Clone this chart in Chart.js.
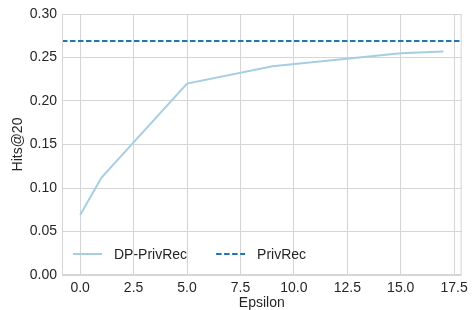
<!DOCTYPE html>
<html>
<head>
<meta charset="utf-8">
<script src="https://cdn.jsdelivr.net/npm/chart.js@4/dist/chart.umd.min.js"></script>
<style>
  html, body { margin:0; padding:0; background:#fff; }
  #wrap { width:473px; height:310px; position:relative; }
</style>
</head>
<body>
<div id="wrap"><canvas id="chart" width="473" height="310"></canvas></div>
<script>
// data
const epsilon = [0, 1, 5, 9, 15, 17];
const dpPrivRec = [0.069, 0.112, 0.220, 0.240, 0.255, 0.257];
const privRecLevel = 0.269;
const xLimits = [-0.85, 17.85];
const xTicks = [0, 2.5, 5, 7.5, 10, 12.5, 15, 17.5];
const yTicks = [0, 0.05, 0.10, 0.15, 0.20, 0.25, 0.30];
const seriesNames = ["DP-PrivRec", "PrivRec"];

const FONT = "'Liberation Sans', Arial, sans-serif";
const TEXT = "#262626";
const GRID = "#d5d5d5";

// frame all round + legend inside the axes, bottom-left
const framePlugin = {
    id: "frame",
    afterDatasetsDraw(chart){
        const {ctx, chartArea:a} = chart;
        ctx.save();
        ctx.strokeStyle = GRID;
        ctx.lineWidth = 1;
        ctx.strokeRect(a.left+0.5, a.top+0.5, a.right-a.left-1, a.bottom-a.top-1);

        // legend
        const y = a.bottom - 21;
        ctx.font = "14px " + FONT;
        ctx.fillStyle = TEXT;
        ctx.textBaseline = "middle";
        let x = a.left + 11;
        chart.data.datasets.forEach((ds, i)=>{
            ctx.beginPath();
            ctx.strokeStyle = ds.borderColor;
            ctx.lineWidth = 2;
            ctx.setLineDash(ds.borderDash || []);
            ctx.moveTo(x, y);
            ctx.lineTo(x + 29, y);
            ctx.stroke();
            ctx.setLineDash([]);
            ctx.fillText(ds.label, x + 41, y + 1);
            x += 41 + ctx.measureText(ds.label).width + 29;
        });
        ctx.restore();
    }
};

new Chart(document.getElementById("chart"), {
    type: "line",
    data: {
        datasets: [
            {
                label: seriesNames[0],
                data: epsilon.map((e, i)=>({x:e, y:dpPrivRec[i]})),
                borderColor: "#a6cee3",
                borderWidth: 2,
                pointRadius: 0,
                tension: 0,
                fill: false
            },
            {
                label: seriesNames[1],
                data: xLimits.map(e=>({x:e, y:privRecLevel})),
                borderColor: "#1f78b4",
                borderWidth: 2,
                borderDash: [5.5, 2.5],
                pointRadius: 0,
                fill: false
            }
        ]
    },
    options: {
        responsive: false,
        animation: false,
        layout: { padding: { top: 14, right: 11, left: 0, bottom: 0 } },
        plugins: { legend: { display: false }, tooltip: { enabled: false } },
        scales: {
            x: {
                type: "linear",
                min: xLimits[0],
                max: xLimits[1],
                afterBuildTicks: s=>{ s.ticks = xTicks.map(v=>({value:v})); },
                afterFit: s=>{ s.height = 35; },
                ticks: {
                    color: TEXT,
                    font: { family: FONT, size: 14 },
                    padding: 5,
                    maxRotation: 0,
                    callback: v=>Number(v).toFixed(1)
                },
                grid: { color: GRID, lineWidth: 1, drawTicks: false },
                border: { display: false },
                title: {
                    display: true, text: "Epsilon", color: TEXT,
                    font: { family: FONT, size: 14 }, padding: { top: 0, bottom: -2 }
                }
            },
            y: {
                min: 0,
                max: 0.30,
                afterBuildTicks: s=>{ s.ticks = yTicks.map(v=>({value:v})); },
                afterFit: s=>{ s.width = 62; },
                ticks: {
                    color: TEXT,
                    font: { family: FONT, size: 14 },
                    padding: 5,
                    callback: v=>Number(v).toFixed(2)
                },
                grid: { color: GRID, lineWidth: 1, drawTicks: false },
                border: { display: false },
                title: {
                    display: true, text: "Hits@20", color: TEXT,
                    font: { family: FONT, size: 14 }, padding: { top: 10, bottom: 0 }
                }
            }
        }
    },
    plugins: [framePlugin]
});
</script>
</body>
</html>
